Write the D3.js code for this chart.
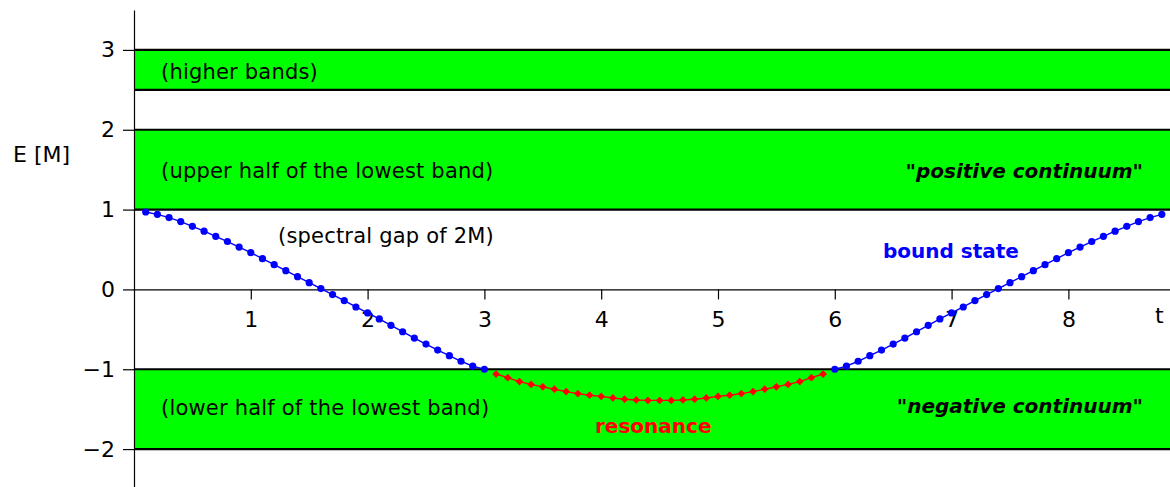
<!DOCTYPE html>
<html>
<head>
<meta charset="utf-8">
<script src="https://cdn.jsdelivr.net/npm/d3@7"></script>
<style>
  html, body { margin: 0; padding: 0; background: #fff; }
  svg { display: block; font-family: "DejaVu Sans", Verdana, sans-serif; }
</style>
</head>
<body>
<svg id="chart" width="1170" height="487"></svg>
<script>
// ---- data ----
const xTicks = [1, 2, 3, 4, 5, 6, 7, 8];
const yTicks = [-2, -1, 0, 1, 2, 3];
const yTickLabels = ["\u22122", "\u22121", "0", "1", "2", "3"];

const bandLower = [2.5, 1, -2];
const bandUpper = [3, 2, -1];

const boundLeftT = [0.1,0.2,0.3,0.4,0.5,0.6,0.7,0.8,0.9,1.0,1.1,1.2,1.3,1.4,1.5,1.6,1.7,1.8,1.9,2.0,2.1,2.2,2.3,2.4,2.5,2.6,2.7,2.8,2.9,3.0];
const boundLeftE = [0.97,0.94,0.90,0.85,0.79,0.73,0.665,0.60,0.53,0.46,0.385,0.31,0.235,0.16,0.085,0.01,-0.065,-0.14,-0.22,-0.295,-0.37,-0.45,-0.53,-0.61,-0.685,-0.76,-0.83,-0.90,-0.96,-1.00];

const resonanceT = [3.1,3.2,3.3,3.4,3.5,3.6,3.7,3.8,3.9,4.0,4.1,4.2,4.3,4.4,4.5,4.6,4.7,4.8,4.9,5.0,5.1,5.2,5.3,5.4,5.5,5.6,5.7,5.8,5.9];
const resonanceE = [-1.06,-1.105,-1.155,-1.19,-1.22,-1.25,-1.28,-1.305,-1.325,-1.34,-1.36,-1.375,-1.385,-1.39,-1.39,-1.39,-1.385,-1.375,-1.36,-1.34,-1.325,-1.305,-1.28,-1.25,-1.22,-1.19,-1.155,-1.105,-1.06];

const boundRightT = [6.0,6.1,6.2,6.3,6.4,6.5,6.6,6.7,6.8,6.9,7.0,7.1,7.2,7.3,7.4,7.5,7.6,7.7,7.8,7.9,8.0,8.1,8.2,8.3,8.4,8.5,8.6,8.7,8.8];
const boundRightE = [-1.00,-0.96,-0.90,-0.83,-0.76,-0.685,-0.61,-0.53,-0.45,-0.37,-0.295,-0.22,-0.14,-0.065,0.01,0.085,0.16,0.235,0.31,0.385,0.46,0.53,0.60,0.665,0.73,0.79,0.85,0.90,0.94];

// ---- drawing ----
const svg = d3.select("#chart");
const x = d3.scaleLinear().domain([0, 8.87]).range([134, 1170]);
const y = d3.scaleLinear().domain([-2.5, 3.5]).range([489, 10]);

// bands
const bands = bandLower.map((lo, i) => ({lo, hi: bandUpper[i]}));
const gb = svg.append("g");
gb.selectAll("rect").data(bands).join("rect")
  .attr("x", x(0)).attr("width", x(8.87) - x(0))
  .attr("y", d => y(d.hi)).attr("height", d => y(d.lo) - y(d.hi))
  .attr("fill", "#00ff00");
const edges = bands.flatMap(d => [d.lo, d.hi]);
gb.selectAll("line").data(edges).join("line")
  .attr("x1", x(0)).attr("x2", x(8.87))
  .attr("y1", d => y(d)).attr("y2", d => y(d))
  .attr("stroke", "#000").attr("stroke-width", 2.2);

// y axis
const yAxis = d3.axisLeft(y).tickValues(yTicks)
  .tickFormat((d, i) => yTickLabels[i]).tickSize(11).tickSizeOuter(0).tickPadding(8);
const gy = svg.append("g").attr("transform", `translate(${x(0)},0)`).call(yAxis);
gy.select(".domain").attr("stroke", "#000").attr("stroke-width", 1.2);
gy.selectAll(".tick line").attr("stroke", "#000").attr("stroke-width", 1.2);
gy.selectAll(".tick text").attr("font-size", 22).attr("font-family", "DejaVu Sans").attr("fill", "#000");

// x axis
const xAxis = d3.axisBottom(x).tickValues(xTicks).tickFormat(d3.format("d"))
  .tickSize(10).tickSizeOuter(0).tickPadding(12);
const gx = svg.append("g").attr("transform", `translate(0,${y(0)})`).call(xAxis);
gx.select(".domain").attr("stroke", "#000").attr("stroke-width", 1.2);
gx.selectAll(".tick line").attr("stroke", "#000").attr("stroke-width", 1.2);
gx.selectAll(".tick text").attr("font-size", 22).attr("font-family", "DejaVu Sans").attr("fill", "#000");

// axis titles
svg.append("text").attr("x", 13).attr("y", 162).attr("font-size", 22).text("E [M]");
svg.append("text").attr("x", 1155).attr("y", 323).attr("font-size", 22).text("t");

// curves
const line = d3.line().x(d => x(d[0])).y(d => y(d[1]));
const zip = (a, b) => a.map((v, i) => [v, b[i]]);
const left = zip(boundLeftT, boundLeftE);
const right = zip(boundRightT, boundRightE);
const res = zip(resonanceT, resonanceE);

[left, right].forEach(s => {
  svg.append("path").datum(s).attr("d", line)
    .attr("fill", "none").attr("stroke", "#0000ff").attr("stroke-width", 1.4);
});
svg.append("path").datum(res).attr("d", line)
  .attr("fill", "none").attr("stroke", "#ff0000").attr("stroke-width", 1.4);

svg.append("g").selectAll("circle").data(left.concat(right)).join("circle")
  .attr("cx", d => x(d[0])).attr("cy", d => y(d[1])).attr("r", 3.6)
  .attr("fill", "#0000ff");

const diamond = d3.symbol().type(d3.symbolSquare).size(30);
svg.append("g").selectAll("path").data(res).join("path")
  .attr("d", diamond)
  .attr("transform", d => `translate(${x(d[0])},${y(d[1])}) rotate(45)`)
  .attr("fill", "#ff0000");

// annotations
const ann = svg.append("g").attr("font-size", 21).attr("letter-spacing", 0.2);
ann.append("text").attr("x", 161).attr("y", 79).text("(higher bands)");
ann.append("text").attr("x", 161).attr("y", 178).text("(upper half of the lowest band)");
ann.append("text").attr("x", 278).attr("y", 243).text("(spectral gap of 2M)");
ann.append("text").attr("x", 161).attr("y", 415).text("(lower half of the lowest band)");
const bold = svg.append("g").attr("font-size", 20).attr("font-weight", "bold");
bold.append("text").attr("x", 1143).attr("y", 178).attr("text-anchor", "end")
  .attr("font-style", "italic").text("\"positive continuum\"");
bold.append("text").attr("x", 1143).attr("y", 413).attr("text-anchor", "end")
  .attr("font-style", "italic").text("\"negative continuum\"");
bold.append("text").attr("x", 883).attr("y", 258).attr("fill", "#0000ff").text("bound state");
bold.append("text").attr("x", 595).attr("y", 433).attr("fill", "#ff0000").text("resonance");
</script>
</body>
</html>
